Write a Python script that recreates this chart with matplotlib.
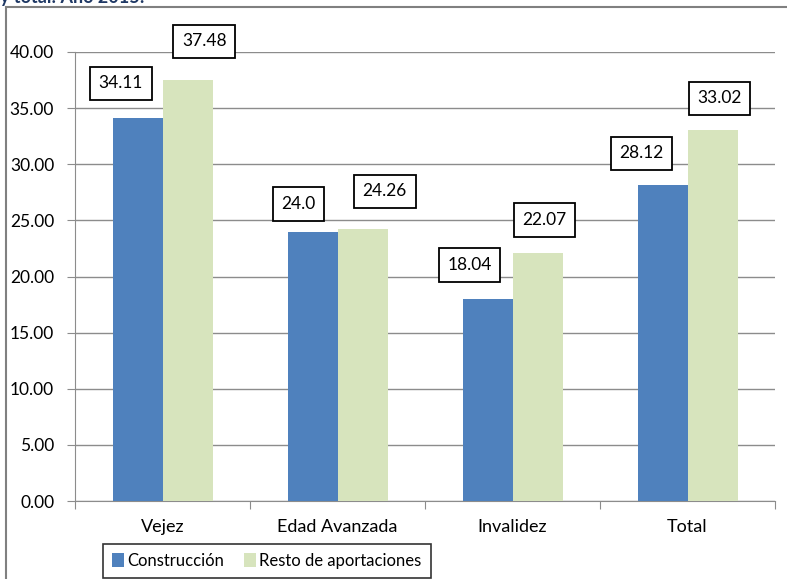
import matplotlib.pyplot as plt
import numpy as np
from matplotlib.patches import Rectangle

# data
categories = ["Vejez", "Edad Avanzada", "Invalidez", "Total"]
construccion = [34.11, 24.00, 18.04, 28.12]
resto = [37.48, 24.26, 22.07, 33.02]
construccion_labels = ["34.11", "24.0", "18.04", "28.12"]
resto_labels = ["37.48", "24.26", "22.07", "33.02"]
yticks = [0, 5, 10, 15, 20, 25, 30, 35, 40]

# label offsets (points) from the bar tops
off_c = [(-12, 25), (-10, 20), (-13, 24), (-15, 23)]
off_r = [(12, 28), (16, 27), (5, 24), (5, 23)]

plt.rcParams['font.family'] = ['Lato', 'DejaVu Sans']

fig = plt.figure(figsize=(7.87, 5.79), dpi=100)
ax = fig.add_axes([75 / 787, 1 - 501 / 579, 700 / 787, 449 / 579])

x = np.arange(len(categories))
w = 50 / 175
blue = '#4F81BD'
green = '#D7E4BD'
ax.bar(x - w / 2, construccion, w, color=blue, label='Construcción', zorder=3)
ax.bar(x + w / 2, resto, w, color=green, label='Resto de aportaciones', zorder=3)

ax.set_xlim(-0.5, len(categories) - 0.5)
ax.set_ylim(0, 40)
ax.set_yticks(yticks)
ax.set_yticklabels([f"{v:.2f}" for v in yticks], fontsize=12.5)
ax.yaxis.grid(True, color='#8C8C8C', lw=1, zorder=0)
ax.set_axisbelow(True)

ax.set_xticks(np.arange(-0.5, len(categories), 1))
ax.set_xticklabels([])
ax.set_xticks(x, minor=True)
ax.set_xticklabels(categories, minor=True, fontsize=13)
ax.tick_params(axis='x', which='minor', length=0, pad=13)
ax.tick_params(axis='x', which='major', length=6, color='#8C8C8C')
ax.tick_params(axis='y', length=6, color='#8C8C8C', pad=9)

for s in ['top', 'right']:
    ax.spines[s].set_visible(False)
for s in ['left', 'bottom']:
    ax.spines[s].set_color('#8C8C8C')

box = dict(boxstyle='square,pad=0.5', fc='white', ec='black', lw=1.3)
for i in range(len(categories)):
    ax.annotate(construccion_labels[i], (x[i] - w / 2, construccion[i]),
                xytext=off_c[i], textcoords='offset points', ha='center',
                va='center', fontsize=12.5, bbox=box, annotation_clip=False, zorder=5)
    ax.annotate(resto_labels[i], (x[i] + w / 2, resto[i]),
                xytext=off_r[i], textcoords='offset points', ha='center',
                va='center', fontsize=12.5, bbox=box, annotation_clip=False, zorder=5)

leg = ax.legend(loc='center', bbox_to_anchor=(267 / 787, 1 - 561 / 579),
                bbox_transform=fig.transFigure, ncol=2, fontsize=12,
                frameon=True, fancybox=False, handlelength=0.7, handleheight=0.9,
                handletextpad=0.2, columnspacing=1.2, borderpad=0.55,
                borderaxespad=0)
leg.get_frame().set_edgecolor('black')
leg.get_frame().set_linewidth(1.2)

# outer chart frame (cropped by the figure edge)
fig.patches.append(Rectangle((6 / 787, -0.05), 1.1, 1 - 7 / 579 + 0.05,
                             transform=fig.transFigure, fill=False,
                             ec='#808080', lw=1.5))

# title cut off at the top
fig.text(0.0, 1 + 3 / 579, "y total: Año 2015:", color='#1F3864',
         fontsize=13, fontweight='bold', va='center', ha='left')

fig.savefig("out.png", dpi=100)
